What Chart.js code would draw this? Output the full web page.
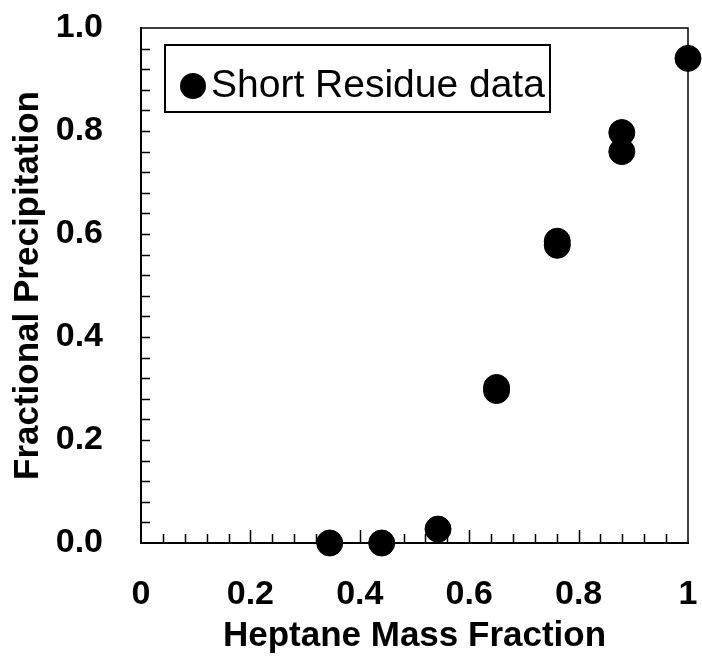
<!DOCTYPE html>
<html>
<head>
<meta charset="utf-8">
<script src="https://cdn.jsdelivr.net/npm/chart.js@4"></script>
<style>
  html, body { margin: 0; padding: 0; background: #ffffff; }
  #wrap { width: 702px; height: 666px; }
</style>
</head>
<body>
<div id="wrap"><canvas id="c" width="702" height="666"></canvas></div>
<script>
// ---- Data ----
const seriesLabel = "Short Residue data";
const heptaneFraction = [0.345, 0.44, 0.543, 0.65, 0.65, 0.761, 0.761, 0.879, 0.879, 1.0];
const fractionalPrecip = [0.0, 0.0, 0.027, 0.296, 0.302, 0.578, 0.586, 0.760, 0.797, 0.941];
const xTickValues = [0, 0.2, 0.4, 0.6, 0.8, 1];
const xTickLabels = ["0", "0.2", "0.4", "0.6", "0.8", "1"];
const yTickValues = [0, 0.2, 0.4, 0.6, 0.8, 1];
const yTickLabels = ["0.0", "0.2", "0.4", "0.6", "0.8", "1.0"];
const minorStep = 0.04;
const xTitle = "Heptane Mass Fraction";
const yTitle = "Fractional Precipitation";

const points = heptaneFraction.map((x, i) => ({ x: x, y: fractionalPrecip[i] }));

function labelFor(values, labels, v) {
  for (let i = 0; i < values.length; i++) {
    if (Math.abs(values[i] - v) < 1e-6) return labels[i];
  }
  return "";
}

// Frame + inward ticks
const framePlugin = {
  id: "frame",
  beforeDatasetsDraw(chart) {
    const ctx = chart.ctx;
    const xs = chart.scales.x, ys = chart.scales.y;
    const a = chart.chartArea;
    ctx.save();
    ctx.strokeStyle = "#000";
    ctx.lineCap = "butt";
    ctx.lineWidth = 1.5;
    ctx.beginPath();
    ctx.moveTo(a.left, a.top); ctx.lineTo(a.right, a.top); ctx.lineTo(a.right, a.bottom);
    ctx.stroke();
    ctx.lineWidth = 2;
    ctx.beginPath();
    ctx.moveTo(a.left, a.top - 1); ctx.lineTo(a.left, a.bottom); ctx.lineTo(a.right + 1, a.bottom);
    ctx.stroke();
    ctx.lineWidth = 1.5;
    ctx.beginPath();
    const n = Math.round((xs.max - xs.min) / minorStep);
    for (let i = 1; i < n; i++) {
      const v = xs.min + i * minorStep;
      const px = Math.round(xs.getPixelForValue(v)) + 0.5;
      const major = (i % 5 === 0);
      ctx.moveTo(px, a.bottom); ctx.lineTo(px, a.bottom - (major ? 13 : 9));
    }
    const m = Math.round((ys.max - ys.min) / minorStep);
    for (let i = 1; i < m; i++) {
      const v = ys.min + i * minorStep;
      const py = Math.round(ys.getPixelForValue(v)) + 0.5;
      ctx.moveTo(a.left, py); ctx.lineTo(a.left + 9, py);
    }
    ctx.stroke();
    ctx.restore();
  }
};

// Boxed legend inside the plot
const boxLegendPlugin = {
  id: "boxLegend",
  afterDraw(chart) {
    const ctx = chart.ctx;
    const ds = chart.data.datasets[0];
    ctx.save();
    ctx.fillStyle = "#fff";
    ctx.strokeStyle = "#000";
    ctx.lineWidth = 2;
    ctx.fillRect(165, 45, 385, 67);
    ctx.strokeRect(165, 45, 385, 67);
    ctx.fillStyle = "#000";
    ctx.beginPath();
    ctx.arc(193, 86, 13, 0, Math.PI * 2);
    ctx.fill();
    ctx.font = "39px 'Liberation Sans', Arial, sans-serif";
    ctx.textBaseline = "middle";
    ctx.textAlign = "left";
    ctx.fillText(ds.label, 211, 86);
    ctx.restore();
  }
};

new Chart(document.getElementById("c"), {
  type: "scatter",
  data: {
    datasets: [{
      label: seriesLabel,
      data: points,
      backgroundColor: "#000",
      borderColor: "#000",
      pointRadius: 13,
      pointBorderWidth: 1,
      pointHoverRadius: 13,
      clip: false
    }]
  },
  options: {
    responsive: false,
    animation: false,
    events: [],
    layout: { padding: { top: 28, right: 14, left: 0, bottom: 0 } },
    plugins: {
      legend: { display: false },
      tooltip: { enabled: false }
    },
    scales: {
      x: {
        type: "linear",
        min: 0, max: 1,
        afterFit(scale) {
          scale.height = 123;
          scale.paddingLeft = 0; scale.paddingRight = 0;
          scale.paddingTop = 0; scale.paddingBottom = 0;
        },
        afterBuildTicks(scale) { scale.ticks = xTickValues.map(v => ({ value: v })); },
        grid: { display: false, drawTicks: false },
        border: { display: false },
        ticks: {
          padding: 31,
          maxRotation: 0,
          autoSkip: false,
          color: "#000",
          font: { family: "'Liberation Sans', Arial, sans-serif", size: 34, weight: "bold" },
          callback: (v) => labelFor(xTickValues, xTickLabels, v)
        },
        title: {
          display: true,
          text: xTitle,
          color: "#000",
          padding: { top: 9, bottom: 9 },
          font: { family: "'Liberation Sans', Arial, sans-serif", size: 35, weight: "bold" }
        }
      },
      y: {
        type: "linear",
        min: 0, max: 1,
        afterFit(scale) {
          scale.width = 141;
          scale.paddingLeft = 0; scale.paddingRight = 0;
          scale.paddingTop = 0; scale.paddingBottom = 0;
        },
        afterBuildTicks(scale) { scale.ticks = yTickValues.map(v => ({ value: v })); },
        grid: { display: false, drawTicks: false },
        border: { display: false },
        ticks: {
          padding: 38,
          autoSkip: false,
          color: "#000",
          font: { family: "'Liberation Sans', Arial, sans-serif", size: 34, weight: "bold" },
          callback: (v) => labelFor(yTickValues, yTickLabels, v)
        },
        title: {
          display: true,
          text: yTitle,
          color: "#000",
          padding: { top: 7, bottom: 7 },
          font: { family: "'Liberation Sans', Arial, sans-serif", size: 35, weight: "bold" }
        }
      }
    }
  },
  plugins: [framePlugin, boxLegendPlugin]
});
</script>
</body>
</html>
